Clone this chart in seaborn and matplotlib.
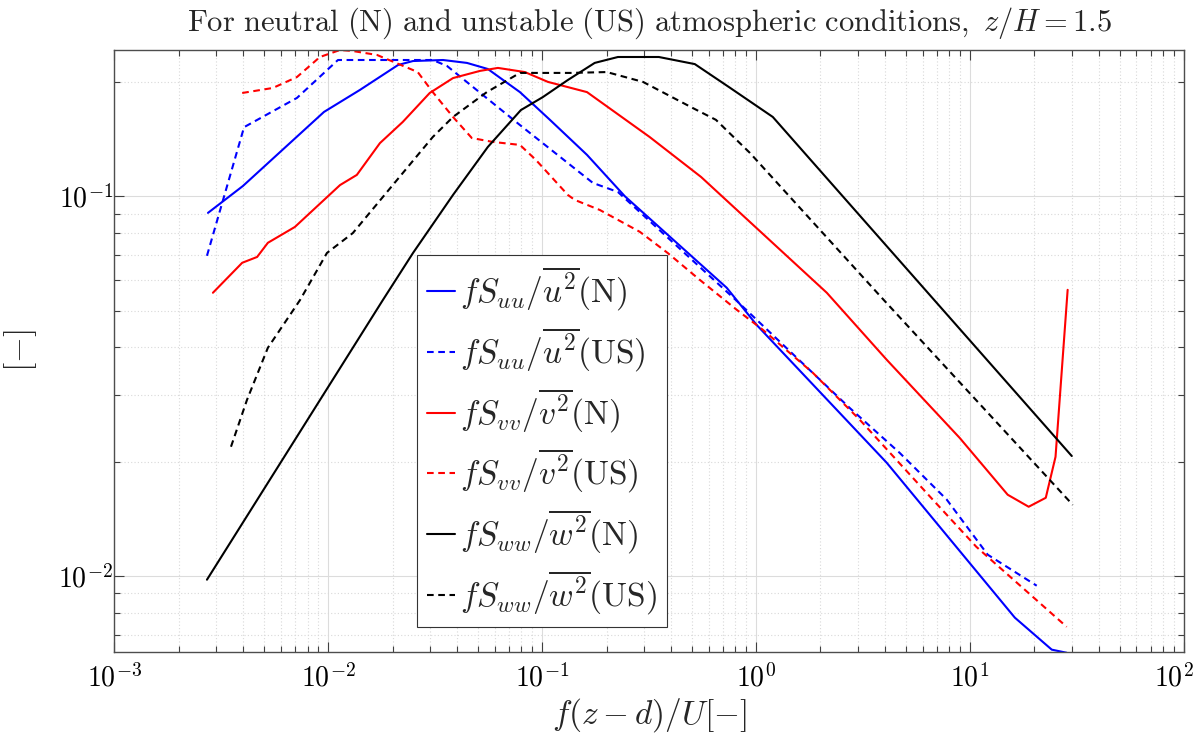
import numpy as np
import pandas as pd
import matplotlib
matplotlib.use("Agg")
import matplotlib.pyplot as plt
import matplotlib.ticker as mticker
import matplotlib.transforms as mtrans
import seaborn as sns

# values (log-log spectra)
u_n_x = [0.00274, 0.00399, 0.00955, 0.01406, 0.0212, 0.0249, 0.0344, 0.0445, 0.0557, 0.0787, 0.1087,
         0.162, 0.2434, 0.729, 1.007, 4.08, 16.2, 24.1, 28.3]
u_n_y = [0.0904, 0.1064, 0.1667, 0.1905, 0.2216, 0.227, 0.2284, 0.2244, 0.2163, 0.188, 0.1589,
         0.1285, 0.1, 0.0574, 0.0458, 0.01987, 0.00777, 0.0064, 0.00628]

u_us_x = [0.00271, 0.00404, 0.00714, 0.0111, 0.0308, 0.0359, 0.0787, 0.1726, 0.226, 0.804, 2.74,
          4.69, 7.78, 12.1, 20.5]
u_us_y = [0.0697, 0.152, 0.1815, 0.2284, 0.2284, 0.2203, 0.154, 0.1084, 0.1026, 0.0533, 0.0277,
          0.0211, 0.0159, 0.01138, 0.00943]

v_n_x = [0.00289, 0.00396, 0.00465, 0.00522, 0.00698, 0.01135, 0.0136, 0.01744, 0.0223, 0.0298,
         0.0383, 0.0512, 0.0621, 0.083, 0.1064, 0.162, 0.318, 0.553, 2.14, 4.08, 8.95, 15.0, 18.8,
         22.6, 25.1, 28.6]
v_n_y = [0.0557, 0.0668, 0.0692, 0.0754, 0.083, 0.107, 0.1138, 0.138, 0.1569, 0.187, 0.2047,
         0.2138, 0.2177, 0.2123, 0.2, 0.188, 0.1432, 0.1124, 0.0557, 0.0371, 0.0231, 0.01637,
         0.01522, 0.01607, 0.0206, 0.0567]

v_us_x = [0.00396, 0.00551, 0.00714, 0.00914, 0.01135, 0.01303, 0.0169, 0.0262, 0.0308, 0.0383,
          0.0469, 0.0588, 0.0787, 0.0935, 0.1318, 0.142, 0.186, 0.286, 0.386, 0.546, 0.813,
          1.075, 1.84, 3.05, 6.69, 10.7, 28.3]
v_us_y = [0.187, 0.1928, 0.206, 0.2326, 0.2427, 0.2412, 0.2355, 0.2123, 0.188, 0.1617, 0.1423,
          0.139, 0.1365, 0.1246, 0.1008, 0.0978, 0.092, 0.0806, 0.0709, 0.0602, 0.0502, 0.0445,
          0.0343, 0.0258, 0.0159, 0.01194, 0.00735]

w_n_x = [0.00271, 0.018, 0.0249, 0.0383, 0.0557, 0.0795, 0.1007, 0.1318, 0.176, 0.226, 0.351,
         0.517, 0.745, 1.197, 29.9]
w_n_y = [0.00978, 0.0533, 0.0709, 0.1008, 0.1348, 0.1686, 0.1824, 0.2023, 0.2244, 0.2326, 0.2326,
         0.2228, 0.194, 0.1617, 0.0207]

w_us_x = [0.00351, 0.00417, 0.00522, 0.00738, 0.00986, 0.01303, 0.0308, 0.0383, 0.0551, 0.0787,
          0.136, 0.2004, 0.296, 0.506, 0.649, 0.936, 3.87, 30.2]
w_us_y = [0.0219, 0.0291, 0.0399, 0.0533, 0.0709, 0.080, 0.1432, 0.1617, 0.188, 0.2112, 0.2112,
          0.2123, 0.2, 0.1707, 0.1589, 0.13, 0.054, 0.0154]

labels = [r"$fS_{uu}/\overline{u^2}(\mathrm{N})$", r"$fS_{uu}/\overline{u^2}(\mathrm{US})$",
          r"$fS_{vv}/\overline{v^2}(\mathrm{N})$", r"$fS_{vv}/\overline{v^2}(\mathrm{US})$",
          r"$fS_{ww}/\overline{w^2}(\mathrm{N})$", r"$fS_{ww}/\overline{w^2}(\mathrm{US})$"]
series = [(u_n_x, u_n_y), (u_us_x, u_us_y), (v_n_x, v_n_y), (v_us_x, v_us_y),
          (w_n_x, w_n_y), (w_us_x, w_us_y)]
colors = ["#0000ff", "#0000ff", "#ff0000", "#ff0000", "#000000", "#000000"]
dashed = [False, True, False, True, False, True]

sns.set_style("ticks")
plt.rcParams["mathtext.fontset"] = "cm"
plt.rcParams["font.family"] = ["DejaVu Serif"]

fig = plt.figure(figsize=(12.01, 7.34), dpi=100)
ax = fig.add_axes([0.0952, 0.1121, 0.8906, 0.8198])

for (xs, ys), lab, c, d in zip(series, labels, colors, dashed):
    df = pd.DataFrame({"x": xs, "y": ys})
    sns.lineplot(data=df, x="x", y="y", ax=ax, color=c, lw=1.5, label=lab,
                 estimator=None, sort=False,
                 linestyle=(0, (3.2, 2.2)) if d else "-")

ax.set_xscale("log")
ax.set_yscale("log")
ax.set_xlim(1e-3, 1e2)
ax.set_ylim(0.00632, 0.2427)

fmt = mticker.FuncFormatter(lambda v, p: r"$10^{%d}$" % round(np.log10(v)))
ax.xaxis.set_major_locator(mticker.LogLocator(base=10, numticks=10))
ax.xaxis.set_major_formatter(fmt)
ax.yaxis.set_major_locator(mticker.LogLocator(base=10, numticks=10))
ax.yaxis.set_major_formatter(fmt)
ax.xaxis.set_minor_locator(mticker.LogLocator(base=10, subs=np.arange(2, 10), numticks=20))
ax.yaxis.set_minor_locator(mticker.LogLocator(base=10, subs=np.arange(2, 10), numticks=20))
ax.xaxis.set_minor_formatter(mticker.NullFormatter())
ax.yaxis.set_minor_formatter(mticker.NullFormatter())

ax.tick_params(which="both", direction="in", top=True, right=True, colors="0.25",
               labelcolor="black", labelsize=20)
ax.tick_params(which="major", length=7.5, width=0.8)
ax.tick_params(which="minor", length=4.3, width=0.8)
ax.tick_params(axis="x", which="major", pad=9)
ax.tick_params(axis="y", which="major", pad=1)
ax.grid(which="major", color="#dcdcdc", lw=0.8, ls="-")
ax.grid(which="minor", color="#d9d9d9", lw=0.8, ls=(0, (1, 2)))
ax.set_axisbelow(True)
for s in ax.spines.values():
    s.set_color("0.3")
    s.set_linewidth(1.0)

ax.set_xlabel(r"$f(z-d)/U[-]$", fontsize=24, labelpad=2)
ax.set_ylabel(r"$[-]$", fontsize=24, labelpad=14)
ax.set_title(r"$\mathrm{For\ neutral\ (N)\ and\ unstable\ (US)\ atmospheric\ conditions,}\ z/H=1.5$",
             fontsize=22, pad=14)

leg = ax.legend(loc="upper left", bbox_to_anchor=(0.283, 0.659), fontsize=24,
                frameon=True, fancybox=False, edgecolor="0.2", framealpha=1,
                handlelength=0.85, handletextpad=0.15, labelspacing=0.37, borderpad=0.3,
                borderaxespad=0)
leg.get_frame().set_linewidth(0.8)

# nudge the last x tick label so it stays inside the figure
fig.canvas.draw()
for t in ax.xaxis.get_major_ticks():
    if abs(t.get_loc() - 100) < 1e-6:
        t.label1.set_transform(t.label1.get_transform() +
                               mtrans.ScaledTranslation(-7 / 72, 0, fig.dpi_scale_trans))

fig.savefig("out.png", dpi=100)
